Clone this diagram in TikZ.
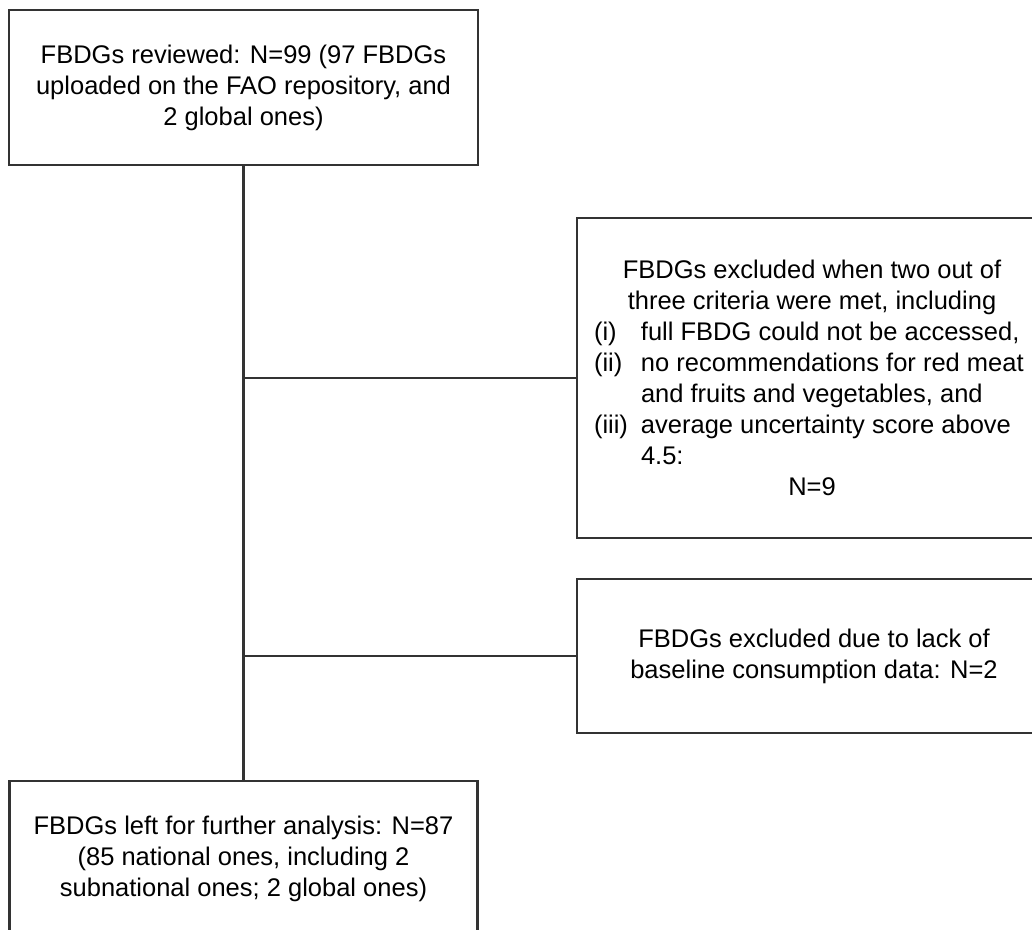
\documentclass[tikz,border=0pt]{standalone}
\usepackage{fontspec}
\setmainfont{Liberation Sans}
\usetikzlibrary{calc}

\newcommand{\critline}[2]{\makebox[436pt][l]{\makebox[47pt][l]{#1}#2}}

\begin{document}
\begin{tikzpicture}
      [x = 1pt, y = 1pt,
      line/.style = {draw = black!80, line width = 2.2pt},
      box/.style = {
         line,
         rectangle,
         inner sep = 0pt,
         outer sep = 0pt,
         align = center,
         font = \fontsize{25.5}{31}\selectfont
      }]
      \useasboundingbox (0, 0) rectangle (1032, -929);
      \clip (0, 0) rectangle (1032, -929);

      \node[box, minimum width = 469, minimum height = 155] (reviewed) at (243.5, -87.5)
         {FBDGs reviewed: N=99 (97 FBDGs\\uploaded on the FAO repository, and\\2 global ones)};

      \node[box, minimum width = 470, minimum height = 320] (criteria) at (812, -378)
         {FBDGs excluded when two out of\\three criteria were met, including\\
         \critline{(i)}{full FBDG could not be accessed,}\\
         \critline{(ii)}{no recommendations for red meat}\\
         \critline{}{and fruits and vegetables, and}\\
         \critline{(iii)}{average uncertainty score above}\\
         \critline{}{4.5:}\\
         N=9};

      \node[box, minimum width = 474, minimum height = 154] (baseline) at (814, -656)
         {FBDGs excluded due to lack of\\baseline consumption data: N=2};

      \node[box, minimum width = 468, minimum height = 155] (left) at (243.5, -858.5)
         {FBDGs left for further analysis: N=87\\(85 national ones, including 2\\subnational ones; 2 global ones)};

      % main line and the two side branches
      \coordinate (j1) at (reviewed.south |- criteria.west);
      \coordinate (j2) at (reviewed.south |- baseline.west);
      \draw[line] (reviewed.south) -- (left.north);
      \draw[line] (j1) -- (criteria.west);
      \draw[line] (j2) -- (baseline.west);
\end{tikzpicture}
\end{document}
